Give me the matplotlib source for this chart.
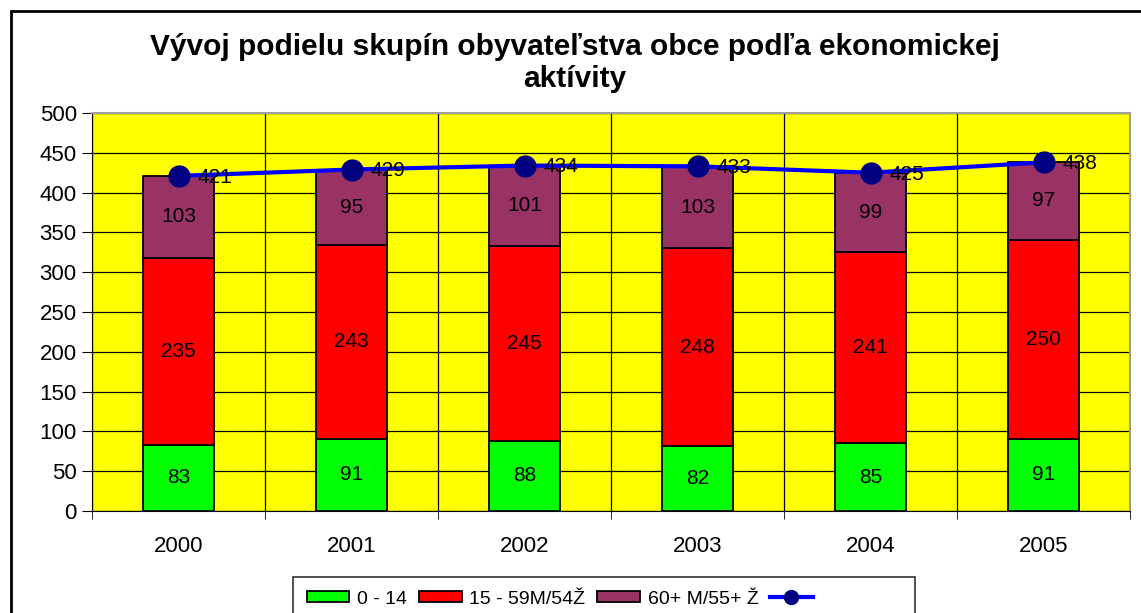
import matplotlib
matplotlib.use("Agg")
import matplotlib.pyplot as plt
from matplotlib.patches import Rectangle, Patch
from matplotlib.lines import Line2D

plt.rcParams['font.family'] = ['Liberation Sans', 'DejaVu Sans']

years = ['2000', '2001', '2002', '2003', '2004', '2005']
young = [83, 91, 88, 82, 85, 91]
working = [235, 243, 245, 248, 241, 250]
old = [103, 95, 101, 103, 99, 97]
total = [421, 429, 434, 433, 425, 438]

labels = ['0 - 14', '15 - 59M/54Ž', '60+ M/55+ Ž']
colors = ['#00ff00', '#ff0000', '#993366']

W, H = 1141, 613
FS = 15
fig = plt.figure(figsize=(W / 100, H / 100), dpi=100)
fig.patch.set_facecolor('white')

# outer chart frame (runs off the right and bottom edges)
fig.patches.append(Rectangle((11 / W, -0.1), 1.2, 1 - 11 / H + 0.1, transform=fig.transFigure,
                             fill=False, edgecolor='black', linewidth=2))

ax = fig.add_axes([92 / W, 1 - 511 / H, (1130 - 92) / W, (511 - 113) / H])
ax.set_facecolor('#ffff00')

x = list(range(len(years)))
w = 0.41
bottoms = [0] * len(years)
for vals, col, lab in zip([young, working, old], colors, labels):
    ax.bar(x, vals, w, bottom=bottoms, color=col, edgecolor='black', linewidth=1.3,
           label=lab, zorder=3)
    for xi, v, bt in zip(x, vals, bottoms):
        ax.text(xi, bt + v / 2, str(v), ha='center', va='center', fontsize=FS, zorder=5)
    bottoms = [bt + v for bt, v in zip(bottoms, vals)]

ax.plot(x, total, color='#0000ff', linewidth=3, marker='o', markersize=15,
        markerfacecolor='#000080', markeredgecolor='#000080', zorder=4)
for xi, t in zip(x, total):
    ax.annotate(str(t), (xi, t), xytext=(14, -1), textcoords='offset points',
                ha='left', va='center', fontsize=FS, zorder=6)

ax.set_xlim(-0.5, len(years) - 0.5)
ax.set_ylim(0, 500)
ax.set_yticks(range(0, 501, 50))
ax.set_xticks(x)
ax.set_xticklabels(years)
ax.set_xticks([i - 0.5 for i in range(len(years) + 1)], minor=True)
ax.tick_params(axis='x', which='major', length=0, pad=18, labelsize=FS + 1)
ax.tick_params(axis='x', which='minor', length=6, direction='out', color='black')
ax.tick_params(axis='y', length=7, direction='out', labelsize=FS + 1, pad=4)
ax.grid(axis='y', color='black', linewidth=0.9, zorder=1)
ax.grid(axis='x', which='minor', color='black', linewidth=0.9, zorder=1)
ax.set_axisbelow(True)
for s in ['top', 'right']:
    ax.spines[s].set_color('#a0a0a0')
    ax.spines[s].set_linewidth(1.5)

fig.text(575 / W, 1 - 47 / H, 'Vývoj podielu skupín obyvateľstva obce podľa ekonomickej',
         ha='center', va='center', fontsize=21.5, fontweight='bold')
fig.text(575 / W, 1 - 79 / H, 'aktívity', ha='center', va='center', fontsize=21.5, fontweight='bold')

handles = [Patch(facecolor=c, edgecolor='black', linewidth=1.3) for c in colors]
handles.append(Line2D([0], [0], color='#0000ff', linewidth=3, marker='o', markersize=10,
                      markerfacecolor='#000080', markeredgecolor='#000080'))
leg = fig.legend(handles, labels + ['               '], loc='upper left',
                 bbox_to_anchor=(293 / W, 1 - 577 / H), borderaxespad=0, ncol=4, fontsize=14,
                 frameon=True, fancybox=False, edgecolor='black', borderpad=0.7,
                 handlelength=2.2, handleheight=0.5, handletextpad=0.4, columnspacing=0.6)
leg.get_frame().set_linewidth(1.2)

fig.savefig('out.png', dpi=100)
